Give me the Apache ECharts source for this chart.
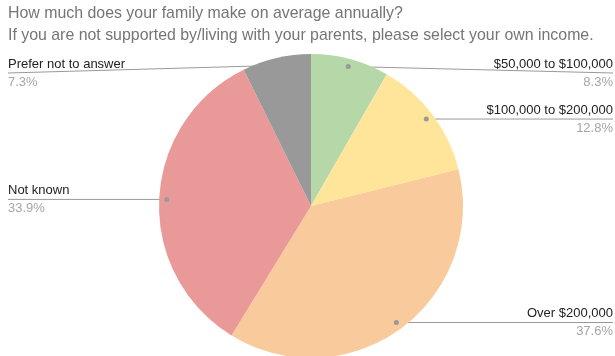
<!DOCTYPE html>
<html>
<head>
<meta charset="utf-8">
<script src="https://cdn.jsdelivr.net/npm/echarts@6/dist/echarts.min.js"></script>
<style>
  html, body { margin: 0; padding: 0; background: #fff; }
  #chart { width: 615px; height: 356px; }
</style>
</head>
<body>
<div id="chart"></div>
<script>
// Survey question and answers
const titleLines = [
  'How much does your family make on average annually?',
  'If you are not supported by/living with your parents, please select your own income.'
];
const categories = ['$50,000 to $100,000', '$100,000 to $200,000', 'Over $200,000', 'Not known', 'Prefer not to answer'];
const shares = [8.3, 12.8, 37.6, 33.9, 7.3];
const sliceColors = ['#b6d7a8', '#ffe599', '#f9cb9c', '#ea9999', '#999999'];

// Layout settings
const CX = 311, CY = 206, R = 152;
const EDGE_L = 8, EDGE_R = 613, LINE_TOP = 73, DOT_FRAC = 0.95;
const FONT = '"Liberation Sans", Arial, sans-serif';

const chart = echarts.init(document.getElementById('chart'));
let sliceLayouts = [];

// Point inside a slice, along its middle angle, where the leader line starts
function dotPoint(i) {
  const L = sliceLayouts[i];
  const mid = (L.startAngle + L.endAngle) / 2;
  return [L.cx + Math.cos(mid) * L.r * DOT_FRAC, L.cy + Math.sin(mid) * L.r * DOT_FRAC];
}

const option = {
  animation: false,
  title: {
    text: titleLines.join('\n'),
    left: 8,
    top: 3,
    padding: 0,
    textStyle: { fontFamily: FONT, fontSize: 15.9, fontWeight: 'normal', color: '#757575', lineHeight: 22 }
  },
  series: [{
    type: 'pie',
    center: [CX, CY],
    radius: R,
    startAngle: 90,
    clockwise: true,
    data: categories.map((c, i) => ({ name: c, value: shares[i], itemStyle: { color: sliceColors[i] } })),
    label: {
      show: true,
      formatter: p => '{n|' + p.name + '}\n{p|' + p.value.toFixed(1) + '%}',
      rich: {
        n: { fontFamily: FONT, fontSize: 13, color: '#222222', lineHeight: 18 },
        p: { fontFamily: FONT, fontSize: 13, color: '#a6a6a6', lineHeight: 18 }
      }
    },
    labelLine: { show: true, lineStyle: { color: '#999999', width: 1 } },
    emphasis: { disabled: true },
    labelLayout: function (params) {
      if (!sliceLayouts.length) return {};
      const i = params.dataIndex;
      const d = dotPoint(i);
      const right = d[0] >= sliceLayouts[i].cx;
      const x = right ? EDGE_R : EDGE_L;
      const y = Math.max(d[1], LINE_TOP);
      return {
        x: x,
        y: y,
        align: right ? 'right' : 'left',
        verticalAlign: 'middle',
        labelLinePoints: [d, d, [x, y]]
      };
    }
  }]
};

chart.setOption(option);

// Read the slice geometry computed by the pie layout, then add the line-end dots
const pieData = chart.getModel().getSeriesByIndex(0).getData();
sliceLayouts = categories.map((_, i) => pieData.getItemLayout(i));
chart.setOption({
  graphic: categories.map((_, i) => {
    const d = dotPoint(i);
    return { type: 'circle', shape: { cx: d[0], cy: d[1], r: 2.5 }, style: { fill: '#999999' }, z: 100 };
  })
});
</script>
</body>
</html>
